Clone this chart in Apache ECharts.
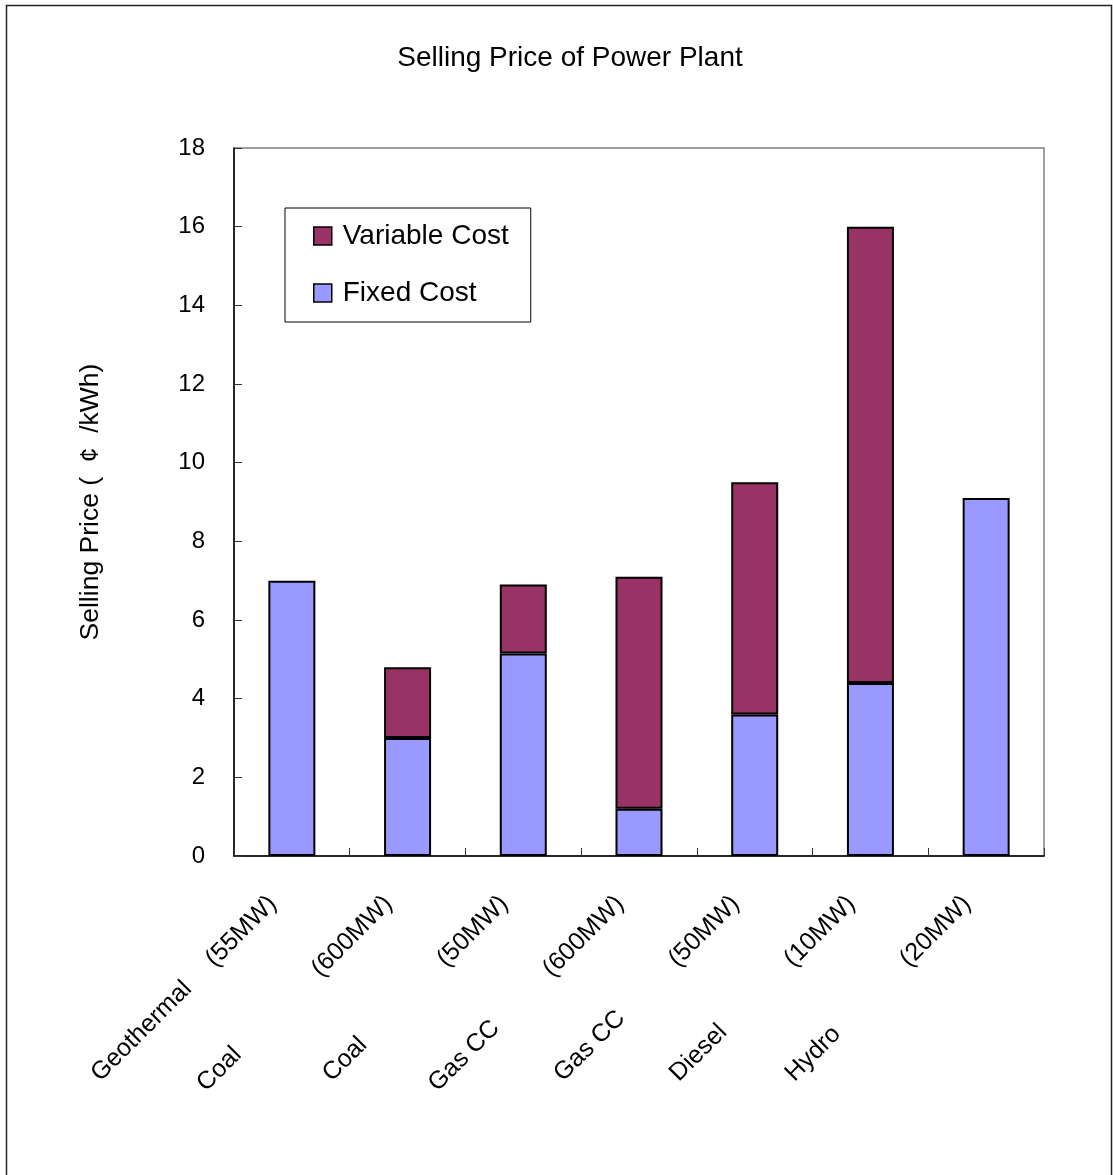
<!DOCTYPE html>
<html>
<head>
<meta charset="utf-8">
<title>Selling Price of Power Plant</title>
<script src="https://cdn.jsdelivr.net/npm/echarts@6/dist/echarts.min.js"></script>
<style>
  html, body { margin: 0; padding: 0; background: #fff; }
  #chart { width: 1113px; height: 1175px; }
</style>
</head>
<body>
<div id="chart"></div>
<script>
// Plant types and their capacities (shown together as the category label)
const plantTypes = ['Geothermal', 'Coal', 'Coal', 'Gas CC', 'Gas CC', 'Diesel', 'Hydro'];
const capacities = ['(55MW)', '(600MW)', '(50MW)', '(600MW)', '(50MW)', '(10MW)', '(20MW)'];

// Selling price components, ¢/kWh
const fixedCost    = [7.0, 3.0, 5.15, 1.2, 3.6, 4.4, 9.1];
const variableCost = [0,   1.8, 1.75, 5.9, 5.9, 11.6, 0];

// Value axis ticks
const yMin = 0, yMax = 18, yStep = 2;

const categories = plantTypes.map((t, i) => t + ' ' + capacities[i]);

// A zero-height segment would only add a doubled outline on top of its stack
const skipZero = v => (v === 0 ? null : v);

const FONT = 'Liberation Sans, Arial, sans-serif';

const chart = echarts.init(document.getElementById('chart'), null, { renderer: 'canvas' });

chart.setOption({
  backgroundColor: '#ffffff',
  animation: false,
  textStyle: { fontFamily: FONT, color: '#000' },
  title: {
    text: 'Selling Price of Power Plant',
    left: 570,
    textAlign: 'center',
    top: 44,
    padding: 0,
    textStyle: { fontFamily: FONT, fontSize: 28, fontWeight: 'normal', color: '#000' }
  },
  legend: {
    orient: 'vertical',
    left: 285,
    top: 208,
    padding: [14, 22, 15, 28],
    itemGap: 29,
    itemWidth: 18,
    itemHeight: 18,
    icon: 'rect',
    selectedMode: false,
    borderColor: '#000',
    borderWidth: 1,
    backgroundColor: '#fff',
    itemStyle: { borderColor: '#000', borderWidth: 1.5 },
    textStyle: { fontFamily: FONT, fontSize: 28, color: '#000', padding: [0, 0, 0, 6] },
    data: ['Variable Cost', 'Fixed Cost']
  },
  grid: {
    left: 234,
    right: 69,
    top: 148,
    bottom: 319,
    show: true,
    borderColor: '#808080',
    borderWidth: 1.5,
    backgroundColor: 'transparent'
  },
  xAxis: {
    type: 'category',
    data: categories,
    boundaryGap: true,
    axisLine: { lineStyle: { color: '#000', width: 1.5 } },
    axisTick: { show: true, inside: true, length: 8, alignWithLabel: false, lineStyle: { color: '#333', width: 1 } },
    axisLabel: {
      interval: 0,
      rotate: 45,
      margin: 25,
      padding: [0, 27, 0, 0],
      color: '#000',
      fontFamily: FONT,
      fontSize: 25,
      formatter: (value, idx) => '{n|' + plantTypes[idx] + '}{m|' + capacities[idx] + '}',
      rich: {
        n: { width: 162, align: 'left', fontSize: 25, fontFamily: FONT, color: '#000' },
        m: { fontSize: 25, fontFamily: FONT, color: '#000' }
      }
    },
    splitLine: { show: false }
  },
  yAxis: {
    type: 'value',
    min: yMin,
    max: yMax,
    interval: yStep,
    name: 'Selling Price (  ¢  /kWh)',
    nameLocation: 'middle',
    nameRotate: 90,
    nameGap: 130,
    nameTextStyle: { fontFamily: FONT, fontSize: 26.5, color: '#000' },
    axisLine: { show: true, lineStyle: { color: '#000', width: 1.5 } },
    axisTick: { show: true, inside: true, length: 8, lineStyle: { color: '#333', width: 1 } },
    axisLabel: { margin: 29, color: '#000', fontFamily: FONT, fontSize: 24 },
    splitLine: { show: false }
  },
  series: [
    {
      name: 'Fixed Cost',
      type: 'bar',
      stack: 'price',
      barWidth: 47,
      data: fixedCost.map(skipZero),
      itemStyle: { color: '#9999FF', borderColor: '#000', borderWidth: 2 }
    },
    {
      name: 'Variable Cost',
      type: 'bar',
      stack: 'price',
      barWidth: 47,
      data: variableCost.map(skipZero),
      itemStyle: { color: '#993366', borderColor: '#000', borderWidth: 2 }
    }
  ],
  graphic: [
    {
      type: 'rect',
      silent: true,
      shape: { x: 6.5, y: 5.5, width: 1105, height: 1185 },
      style: { fill: 'none', stroke: '#222', lineWidth: 1.5 },
      z: 100
    }
  ]
});
</script>
</body>
</html>
